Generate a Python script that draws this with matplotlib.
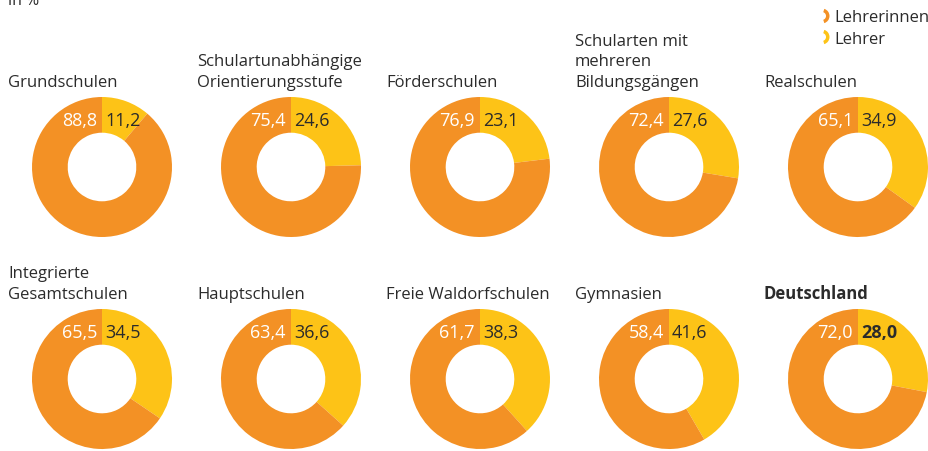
import matplotlib.pyplot as plt
from matplotlib.patches import Wedge

plt.rcParams['font.family'] = ['Open Sans', 'DejaVu Sans']

schularten = ['Grundschulen', 'Schulartunabhängige\nOrientierungsstufe', 'Förderschulen',
              'Schularten mit\nmehreren\nBildungsgängen', 'Realschulen',
              'Integrierte\nGesamtschulen', 'Hauptschulen', 'Freie Waldorfschulen',
              'Gymnasien', 'Deutschland']
lehrerinnen = [88.8, 75.4, 76.9, 72.4, 65.1, 65.5, 63.4, 61.7, 58.4, 72.0]
lehrer = [11.2, 24.6, 23.1, 27.6, 34.9, 34.5, 36.6, 38.3, 41.6, 28.0]

ORANGE = '#F39125'
YELLOW = '#FDC317'
TEXT = '#2b2b2b'

W, H = 929, 452
fig = plt.figure(figsize=(W / 100, H / 100), dpi=100, facecolor='white')

# overlay axes in pixel units for titles, value labels and legend
bg = fig.add_axes([0, 0, 1, 1], zorder=10)
bg.set_xlim(0, W)
bg.set_ylim(H, 0)
bg.patch.set_visible(False)
bg.axis('off')

bg.text(8, 5, 'in %', fontsize=11.5, color=TEXT, va='baseline', ha='left')

R = 70
col_x = [102, 291, 480, 669, 858]
row_y = [168, 380]

def fmt(v):
    return f'{v:.1f}'.replace('.', ',')

for i, name in enumerate(schularten):
    cx = col_x[i % 5]
    cy = row_y[i // 5]
    total = name == 'Deutschland'

    ax = fig.add_axes([(cx - R) / W, 1 - (cy + R) / H, 2 * R / W, 2 * R / H])
    ax.pie([lehrer[i], lehrerinnen[i]], colors=[YELLOW, ORANGE], startangle=90,
           counterclock=False, radius=1, wedgeprops=dict(width=0.51, linewidth=0))
    ax.set_xlim(-1, 1)
    ax.set_ylim(-1, 1)
    ax.axis('off')

    # value labels at top of the ring
    bg.text(cx - 5, cy - R + 23, fmt(lehrerinnen[i]), color='white', fontsize=13,
            ha='right', va='center')
    bg.text(cx + 3, cy - R + 23, fmt(lehrer[i]), color=TEXT, fontsize=13,
            ha='left', va='center', weight='bold' if total else 'normal')

    bg.text(cx - 94, cy - R - 7, name, color=TEXT, fontsize=12, ha='left', va='bottom',
            linespacing=1.38, weight='bold' if total else 'normal')

# legend
for y, c, lab in [(17, ORANGE, 'Lehrerinnen'), (38, YELLOW, 'Lehrer')]:
    bg.add_patch(Wedge((822, y), 7.5, -72, 72, width=3.5, color=c, lw=0))
    bg.text(834, y + 1.5, lab, color=TEXT, fontsize=12, ha='left', va='center')

fig.savefig('out.png', dpi=100)
